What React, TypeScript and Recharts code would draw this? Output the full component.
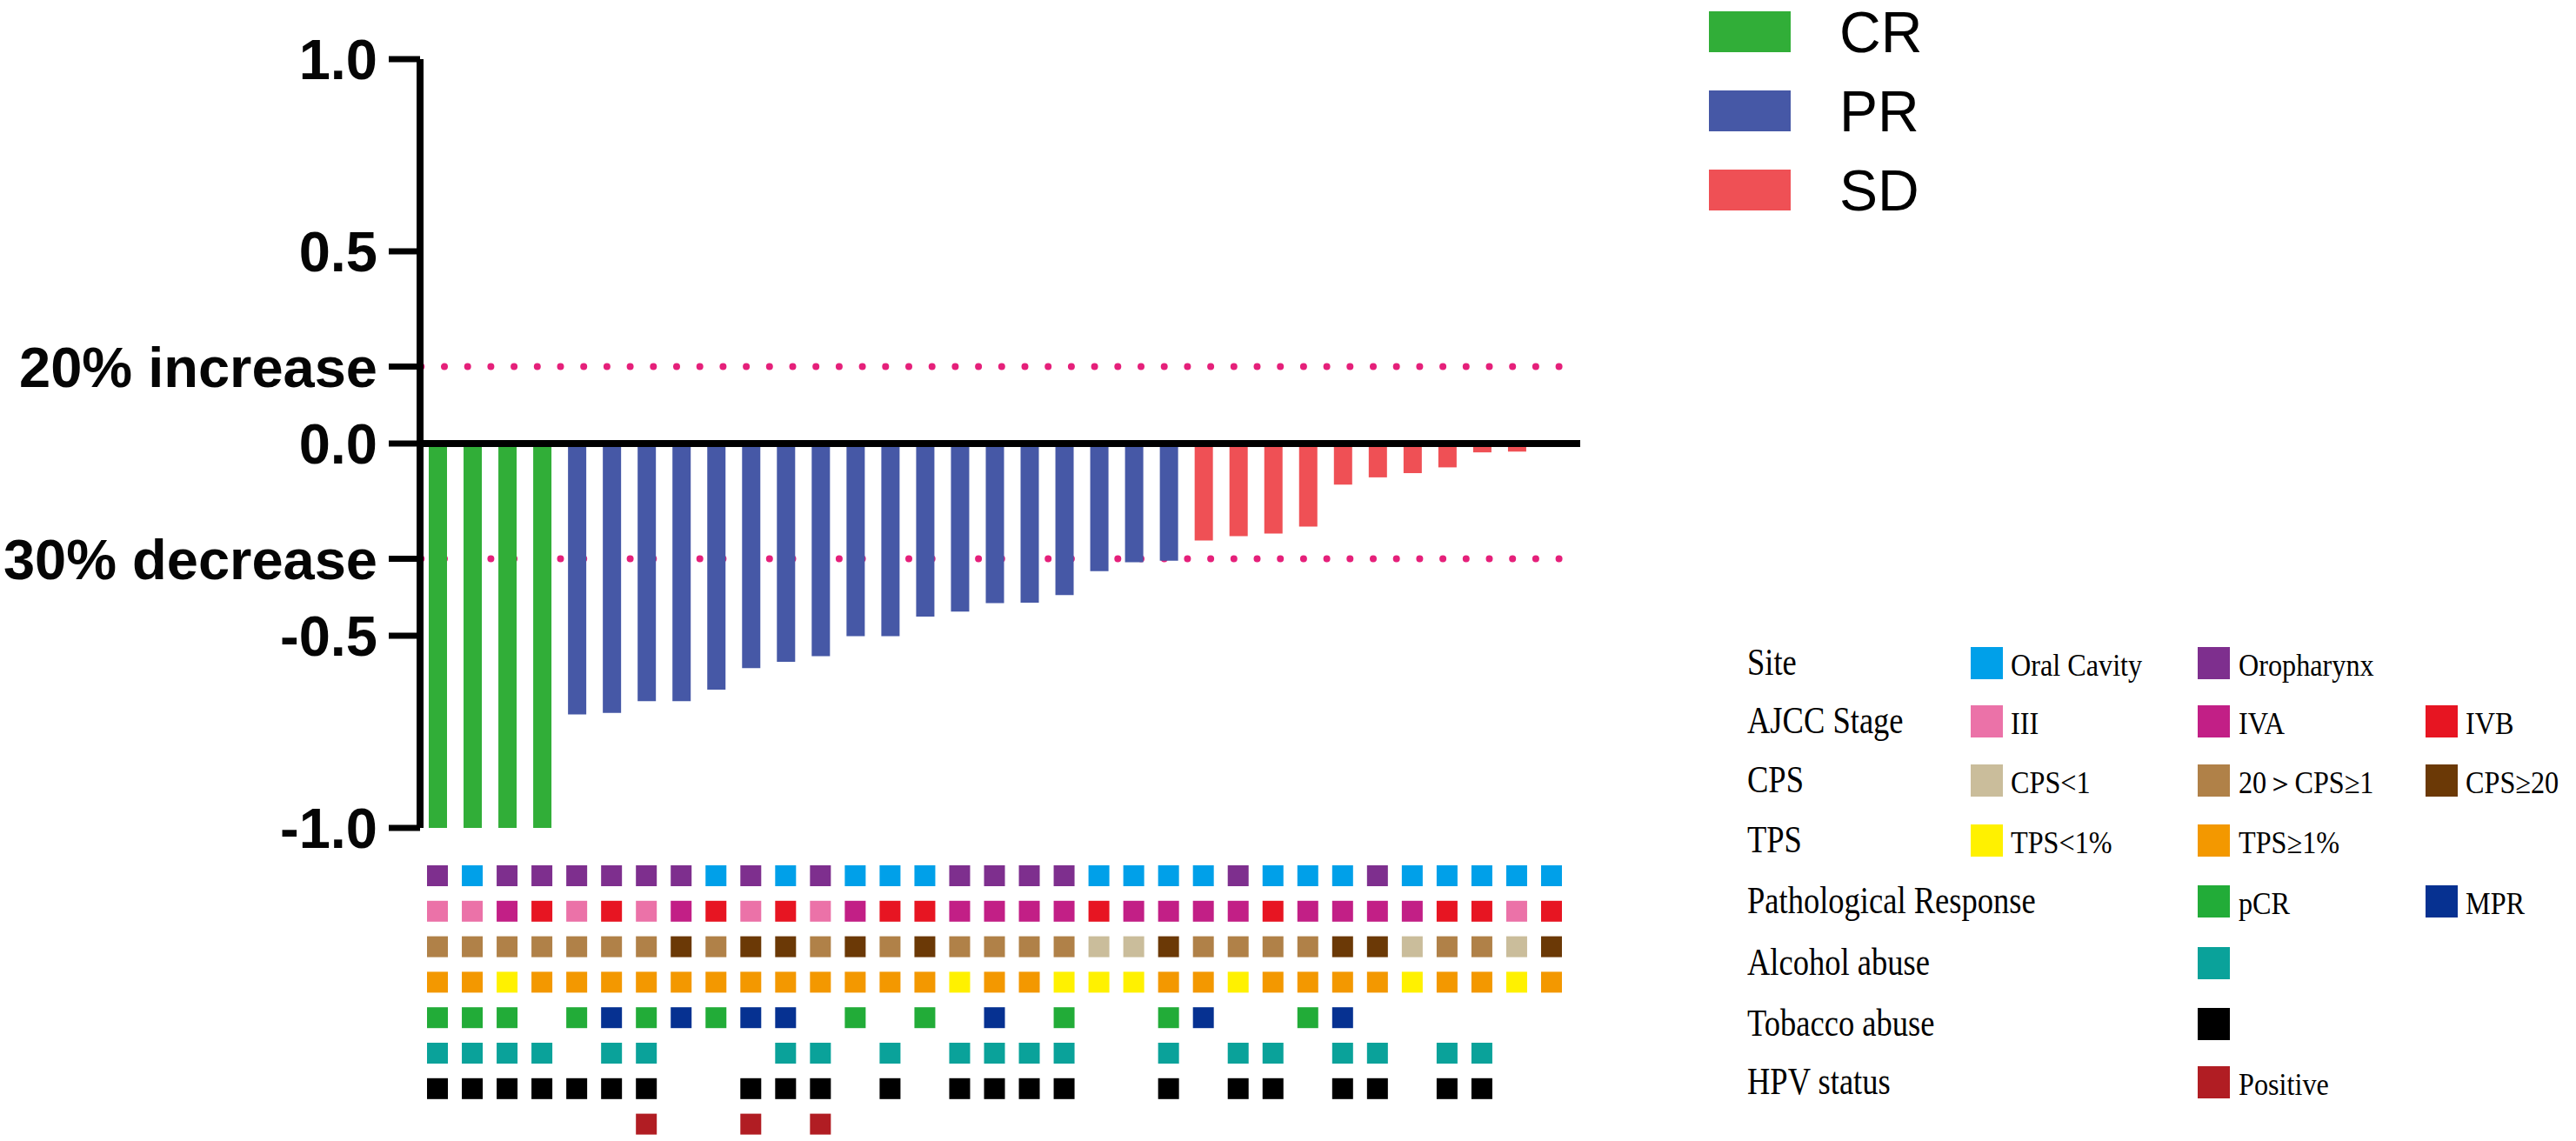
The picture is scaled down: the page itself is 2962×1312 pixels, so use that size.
import React from 'react';
import { BarChart, Bar, XAxis, YAxis, Cell, ReferenceLine, ScatterChart, Scatter } from 'recharts';

// ---------- data ----------
const patients: string[] = Array.from({ length: 33 }, (_, i) => `P${i + 1}`);

const change: number[] = [
  -1.0, -1.0, -1.0, -1.0,
  -0.705, -0.701, -0.67, -0.67, -0.64, -0.584, -0.568, -0.553, -0.501, -0.501,
  -0.45, -0.437, -0.415, -0.414, -0.394, -0.332, -0.309, -0.305,
  -0.252, -0.241, -0.234, -0.216, -0.107, -0.088, -0.077, -0.062, -0.023, -0.021, 0,
];

const response: string[] = [
  'CR', 'CR', 'CR', 'CR',
  'PR', 'PR', 'PR', 'PR', 'PR', 'PR', 'PR', 'PR', 'PR', 'PR', 'PR', 'PR', 'PR', 'PR', 'PR', 'PR', 'PR', 'PR',
  'SD', 'SD', 'SD', 'SD', 'SD', 'SD', 'SD', 'SD', 'SD', 'SD', 'SD',
];

const site: string[] = [
  'OP', 'OC', 'OP', 'OP', 'OP', 'OP', 'OP', 'OP', 'OC', 'OP', 'OC', 'OP', 'OC', 'OC', 'OC', 'OP', 'OP',
  'OP', 'OP', 'OC', 'OC', 'OC', 'OC', 'OP', 'OC', 'OC', 'OC', 'OP', 'OC', 'OC', 'OC', 'OC', 'OC',
];
const stage: string[] = [
  'III', 'III', 'IVA', 'IVB', 'III', 'IVB', 'III', 'IVA', 'IVB', 'III', 'IVB', 'III', 'IVA', 'IVB', 'IVB', 'IVA', 'IVA',
  'IVA', 'IVA', 'IVB', 'IVA', 'IVA', 'IVA', 'IVA', 'IVB', 'IVA', 'IVA', 'IVA', 'IVA', 'IVB', 'IVB', 'III', 'IVB',
];
const cps: string[] = [
  'MID', 'MID', 'MID', 'MID', 'MID', 'MID', 'MID', 'HIGH', 'MID', 'HIGH', 'HIGH', 'MID', 'HIGH', 'MID', 'HIGH', 'MID', 'MID',
  'MID', 'MID', 'LOW', 'LOW', 'HIGH', 'MID', 'MID', 'MID', 'MID', 'HIGH', 'HIGH', 'LOW', 'MID', 'MID', 'LOW', 'HIGH',
];
const tps: string[] = [
  'GE1', 'GE1', 'LT1', 'GE1', 'GE1', 'GE1', 'GE1', 'GE1', 'GE1', 'GE1', 'GE1', 'GE1', 'GE1', 'GE1', 'GE1', 'LT1', 'GE1',
  'GE1', 'LT1', 'LT1', 'LT1', 'GE1', 'GE1', 'LT1', 'GE1', 'GE1', 'GE1', 'GE1', 'LT1', 'GE1', 'GE1', 'LT1', 'GE1',
];
const pathResp: string[] = [
  'pCR', 'pCR', 'pCR', '', 'pCR', 'MPR', 'pCR', 'MPR', 'pCR', 'MPR', 'MPR', '', 'pCR', '', 'pCR', '', 'MPR',
  '', 'pCR', '', '', 'pCR', 'MPR', '', '', 'pCR', 'MPR', '', '', '', '', '', '',
];
const alcohol: number[] = [
  1, 1, 1, 1, 0, 1, 1, 0, 0, 0, 1, 1, 0, 1, 0, 1, 1,
  1, 1, 0, 0, 1, 0, 1, 1, 0, 1, 1, 0, 1, 1, 0, 0,
];
const tobacco: number[] = [
  1, 1, 1, 1, 1, 1, 1, 0, 0, 1, 1, 1, 0, 1, 0, 1, 1,
  1, 1, 0, 0, 1, 0, 1, 1, 0, 1, 1, 0, 1, 1, 0, 0,
];
const hpv: number[] = [
  0, 0, 0, 0, 0, 0, 1, 0, 0, 1, 0, 1, 0, 0, 0, 0, 0,
  0, 0, 0, 0, 0, 0, 0, 0, 0, 0, 0, 0, 0, 0, 0, 0,
];

const yTicks: number[] = [1, 0.5, 0.2, 0, -0.3, -0.5, -1];
const yTickLabels: Record<string, string> = {
  '1': '1.0', '0.5': '0.5', '0.2': '20% increase', '0': '0.0',
  '-0.3': '30% decrease', '-0.5': '-0.5', '-1': '-1.0',
};

// ---------- colours ----------
const responseColors: Record<string, string> = { CR: '#31AE38', PR: '#4658A6', SD: '#EF5055' };
const siteColors: Record<string, string> = { OC: '#00A0E9', OP: '#7E2F8E' };
const stageColors: Record<string, string> = { III: '#EB72A8', IVA: '#C21F86', IVB: '#E71522' };
const cpsColors: Record<string, string> = { LOW: '#CABD9B', MID: '#B08148', HIGH: '#6B3906' };
const tpsColors: Record<string, string> = { LT1: '#FFF100', GE1: '#F39800' };
const pathColors: Record<string, string> = { pCR: '#22AC38', MPR: '#063191' };
const alcoholColor = '#0AA29A';
const tobaccoColor = '#000000';
const hpvColor = '#B11D23';
const refDotColor = '#E5207A';

// ---------- derived tables ----------
const barData = patients.map((id, i) => ({ id, value: change[i], response: response[i] }));

type Pt = { col: number; row: number; fill: string };
const rowsDef: ((i: number) => string | null)[] = [
  (i) => siteColors[site[i]] || null,
  (i) => stageColors[stage[i]] || null,
  (i) => cpsColors[cps[i]] || null,
  (i) => tpsColors[tps[i]] || null,
  (i) => pathColors[pathResp[i]] || null,
  (i) => (alcohol[i] ? alcoholColor : null),
  (i) => (tobacco[i] ? tobaccoColor : null),
  (i) => (hpv[i] ? hpvColor : null),
];
const heatRows: Pt[][] = rowsDef.map((fn, r) => {
  const pts: Pt[] = [];
  patients.forEach((_, i) => {
    const c = fn(i);
    if (c) pts.push({ col: i + 1, row: r + 1, fill: c });
  });
  return pts;
});

const topLegend = [
  { label: 'CR', color: responseColors.CR },
  { label: 'PR', color: responseColors.PR },
  { label: 'SD', color: responseColors.SD },
];

const bottomLegend: { title: string; items: ({ label: string; color: string } | null)[] }[] = [
  { title: 'Site', items: [{ label: 'Oral Cavity', color: siteColors.OC }, { label: 'Oropharynx', color: siteColors.OP }, null] },
  { title: 'AJCC Stage', items: [{ label: 'III', color: stageColors.III }, { label: 'IVA', color: stageColors.IVA }, { label: 'IVB', color: stageColors.IVB }] },
  { title: 'CPS', items: [{ label: 'CPS<1', color: cpsColors.LOW }, { label: '20＞CPS≥1', color: cpsColors.MID }, { label: 'CPS≥20', color: cpsColors.HIGH }] },
  { title: 'TPS', items: [{ label: 'TPS<1%', color: tpsColors.LT1 }, { label: 'TPS≥1%', color: tpsColors.GE1 }, null] },
  { title: 'Pathological Response', items: [null, { label: 'pCR', color: pathColors.pCR }, { label: 'MPR', color: pathColors.MPR }] },
  { title: 'Alcohol abuse', items: [null, { label: '', color: alcoholColor }, null] },
  { title: 'Tobacco abuse', items: [null, { label: '', color: tobaccoColor }, null] },
  { title: 'HPV status', items: [null, { label: 'Positive', color: hpvColor }, null] },
];

// ---------- layout constants ----------
const SANS = "'Liberation Sans', Arial, sans-serif";
const SERIF = "'Liberation Serif', 'Times New Roman', serif";
const legendRowCenters = [762, 829, 897, 966, 1036, 1107, 1177, 1244];
const legendSwatchX = [2266, 2527, 2789];
const legendTextX = [2312, 2574, 2835];

const Square = (props: any) => {
  const { cx, cy, payload } = props;
  if (cx == null || cy == null) return null;
  return <rect x={cx - 12} y={cy - 12} width={24} height={24} fill={payload.fill} />;
};

export default function App() {
  return (
    <div style={{ position: 'absolute', left: 0, top: 0, width: 2962, height: 1312, background: '#fff', overflow: 'hidden' }}>
      {/* waterfall bars */}
      <div style={{ position: 'absolute', left: 0, top: 0 }}>
        <BarChart width={1830} height={1000} data={barData} margin={{ top: 68, right: 13, bottom: 48, left: 0 }}>
          <XAxis dataKey="id" type="category" hide padding={{ left: 0, right: 13 }} />
          <YAxis
            type="number"
            domain={[-1, 1]}
            ticks={yTicks}
            interval={0}
            width={483}
            tickSize={36}
            tickMargin={13}
            axisLine={{ stroke: '#000', strokeWidth: 8 }}
            tickLine={{ stroke: '#000', strokeWidth: 7 }}
            tick={{ fontSize: 65, fontWeight: 'bold', fill: '#050505', fontFamily: SANS }}
            tickFormatter={(v: number) => yTickLabels[String(v)] ?? String(v)}
            allowDataOverflow
          />
          <ReferenceLine y={0.2} stroke={refDotColor} strokeWidth={8} strokeDasharray="0 26.7" strokeLinecap="round" strokeDashoffset={-1.3} zIndex={0} />
          <ReferenceLine y={-0.3} stroke={refDotColor} strokeWidth={8} strokeDasharray="0 26.7" strokeLinecap="round" strokeDashoffset={-1.3} zIndex={0} />
          <Bar dataKey="value" barSize={21} isAnimationActive={false}>
            {barData.map((d) => (
              <Cell key={d.id} fill={responseColors[d.response]} />
            ))}
          </Bar>
          <ReferenceLine y={0} stroke="#000" strokeWidth={8} zIndex={1000} />
        </BarChart>
      </div>

      {/* annotation heatmap */}
      <div style={{ position: 'absolute', left: 0, top: 980 }}>
        <ScatterChart width={1830} height={333} margin={{ top: 6.6, right: 26, bottom: 0, left: 483 }}>
          <XAxis type="number" dataKey="col" domain={[0.5, 33.5]} hide allowDataOverflow />
          <YAxis type="number" dataKey="row" domain={[0.5, 8.5]} reversed hide allowDataOverflow />
          {heatRows.map((pts, r) => (
            <Scatter key={r} data={pts} shape={<Square />} isAnimationActive={false} />
          ))}
        </ScatterChart>
      </div>

      {/* response legend */}
      {topLegend.map((it, i) => (
        <React.Fragment key={it.label}>
          <div style={{ position: 'absolute', left: 1965, top: 13 + i * 91, width: 94, height: 47, background: it.color }} />
          <div style={{ position: 'absolute', left: 2115, top: 36.5 + i * 91 - 38, height: 76, lineHeight: '76px', fontFamily: SANS, fontSize: 66, color: '#000', whiteSpace: 'nowrap' }}>
            {it.label}
          </div>
        </React.Fragment>
      ))}

      {/* annotation legend */}
      {bottomLegend.map((row, r) => {
        const cy = legendRowCenters[r];
        return (
          <React.Fragment key={row.title}>
            <div
              style={{
                position: 'absolute', left: 2009, top: cy - 30, height: 60, lineHeight: '60px',
                fontFamily: SERIF, fontSize: 44, color: '#000', whiteSpace: 'nowrap',
                transform: 'scaleX(0.83)', transformOrigin: 'left center',
              }}
            >
              {row.title}
            </div>
            {row.items.map((it, c) =>
              it ? (
                <React.Fragment key={c}>
                  <div style={{ position: 'absolute', left: legendSwatchX[c], top: cy - 18.5, width: 37, height: 37, background: it.color }} />
                  {it.label ? (
                    <div
                      style={{
                        position: 'absolute', left: legendTextX[c], top: cy - 20, height: 48, lineHeight: '48px',
                        fontFamily: SERIF, fontSize: 35, color: '#000', whiteSpace: 'nowrap',
                        transform: 'scaleX(0.92)', transformOrigin: 'left center',
                      }}
                    >
                      {it.label}
                    </div>
                  ) : null}
                </React.Fragment>
              ) : null
            )}
          </React.Fragment>
        );
      })}
    </div>
  );
}
